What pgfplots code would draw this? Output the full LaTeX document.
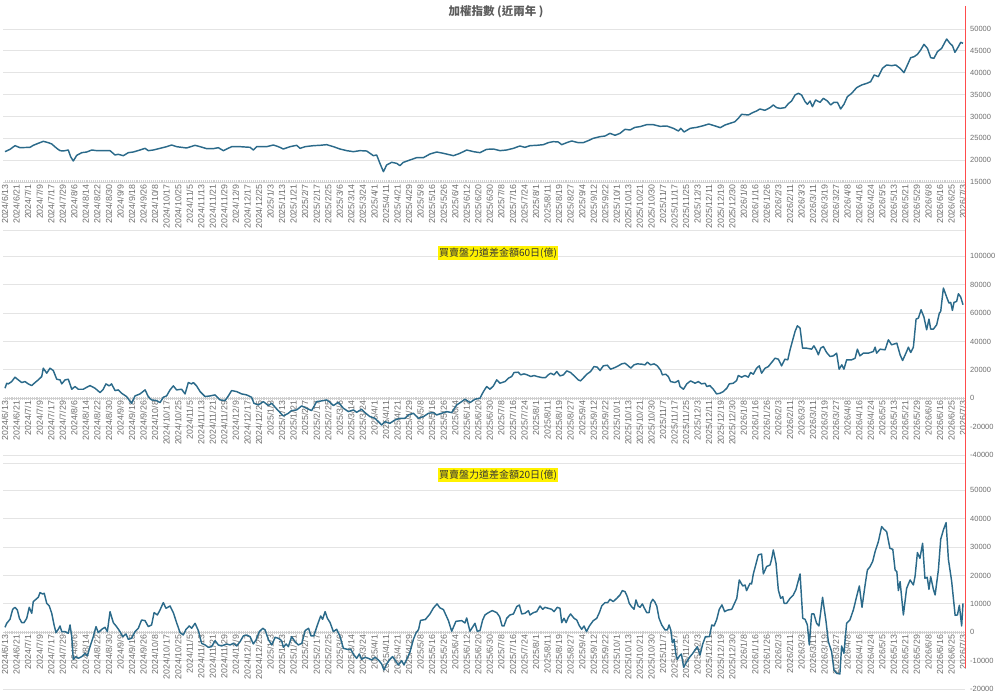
\documentclass[border=0pt]{standalone}
\usepackage{fontspec}
\setmainfont{Liberation Sans}
\newfontfamily\cjk{Noto Sans CJK TC}
\usepackage{pgfplots}
\pgfplotsset{compat=1.18}
\definecolor{linec}{HTML}{2B6A8A}
\definecolor{gridc}{HTML}{E4E4E4}
\definecolor{combc}{HTML}{CFCFCF}
\definecolor{tickc}{HTML}{6E6E6E}
\definecolor{titlec}{HTML}{5C5C5C}
\pgfplotsset{
  datelabels/.style={xticklabels={2024/6/13,2024/6/21,2024/7/1,2024/7/9,2024/7/17,2024/7/29,2024/8/6,2024/8/14,2024/8/22,2024/8/30,2024/9/9,2024/9/18,2024/9/26,2024/10/8,2024/10/17,2024/10/25,2024/11/5,2024/11/13,2024/11/21,2024/11/29,2024/12/9,2024/12/17,2024/12/25,2025/1/3,2025/1/13,2025/1/21,2025/2/7,2025/2/17,2025/2/25,2025/3/6,2025/3/14,2025/3/24,2025/4/1,2025/4/11,2025/4/21,2025/4/29,2025/5/8,2025/5/16,2025/5/26,2025/6/4,2025/6/12,2025/6/20,2025/6/30,2025/7/8,2025/7/16,2025/7/24,2025/8/1,2025/8/11,2025/8/19,2025/8/27,2025/9/4,2025/9/12,2025/9/22,2025/10/1,2025/10/13,2025/10/21,2025/10/30,2025/11/7,2025/11/17,2025/11/25,2025/12/3,2025/12/11,2025/12/19,2025/12/30,2026/1/8,2026/1/16,2026/1/26,2026/2/3,2026/2/11,2026/3/3,2026/3/11,2026/3/19,2026/3/27,2026/4/8,2026/4/16,2026/4/24,2026/5/5,2026/5/13,2026/5/21,2026/5/29,2026/6/8,2026/6/16,2026/6/25,2026/7/3}},
  common/.style={
    scale only axis, width=962pt,
    xmin=-1.04, xmax=499.04,
    axis y line*=right,
    y axis line style={draw=none},
    hide obscured x ticks=false, hide obscured y ticks=false,
    scaled y ticks=false, scaled x ticks=false,
    xtick={0,6,...,498}, datelabels,
    minor x tick num=5,
    xtick align=center,
    major tick length=3pt, minor tick length=3pt,
    xtick style={draw=combc, line width=0.5pt},
    minor tick style={draw=combc, line width=0.5pt},
    ytick style={draw=none},
    xticklabel style={rotate=90, anchor=east, font=\fontsize{8.8}{9}\selectfont, text=tickc, inner sep=1pt},
    yticklabel style={anchor=west, font=\fontsize{7.5}{8}\selectfont, text=tickc, inner sep=0pt, xshift=5pt},
    ymajorgrids, grid style={draw=gridc, line width=0.8pt},
  },
  ser/.style={draw=linec, no markers, line width=1.45pt, line join=round},
}
\begin{document}
\begin{tikzpicture}
\useasboundingbox (0,0) rectangle (1000pt,698pt);
% ---------- Panel 1 ----------
\begin{axis}[common, at={(3pt,516pt)}, anchor=south west, height=153pt,
  axis x line=bottom, x axis line style={-, draw=combc, line width=0.6pt},
  ymin=15000, ymax=50000,
  ytick={15000,20000,25000,30000,35000,40000,45000,50000},
  yticklabels={15000,20000,25000,30000,35000,40000,45000,50000}]
\addplot[ser] table {
0 21940
2.6 22470
5.2 23310
7.8 22850
13 22930
14.7 23390
17.3 23850
19.9 24300
22.5 24000
24.3 23690
26.9 22700
28.6 22170
30.3 22090
32.9 22320
34.1 20800
35.5 19800
37.3 21100
39.9 21710
42.5 21860
45.1 22320
47.7 22170
51.1 22170
54.6 22170
57.2 21180
58.9 21330
61.5 21020
64.1 21710
66.7 21860
70.2 22320
72.8 22700
74.5 22170
77.1 22320
80.6 22700
84 23080
86.6 23460
89.2 23080
94.4 22780
98.8 23390
101.4 23080
104.8 22630
108.3 22630
110.9 22850
113.5 22170
117.8 23080
122.2 23080
127.4 22930
129.1 22320
130.8 23080
136 23080
139.5 23460
142.1 23080
144.7 22550
148.2 23080
151.6 23390
153.4 22700
156 23080
160.3 23310
163.7 23390
167.2 23540
170.7 23080
174.1 22550
177.6 22170
181.1 21940
184.5 22170
188 22090
191.5 21020
193.2 21180
194.9 19270
196.7 17360
198.4 18890
201 19500
203.6 19270
205.3 18740
207.1 19500
210.5 20030
214 20570
217.5 20570
220.9 21400
224.4 21860
227.9 21560
233.1 21020
236.5 21560
240 22320
243.5 21940
246.9 21710
250.4 22470
253.9 22550
257.3 22170
260.8 22320
264.3 22700
267.6 23235
270.3 22930
272.9 23310
276.4 23390
279.9 23540
282.4 24000
285 24230
287.6 24150
289.4 23540
292 24000
294.6 24380
298 24000
300.6 24000
303.2 24460
305.8 24990
309.3 25370
311.9 25520
314.5 26130
317.1 25680
319.7 26130
322.3 27050
324.9 26900
327.5 27500
330.1 27660
333.6 28120
337 28120
340.5 27730
344 27810
347.4 27280
350.1 26670
351.3 27280
353 26440
356.2 27280
359.6 27500
363.1 27890
365.8 28270
369.2 27810
371.8 27430
374.3 28040
376.9 28420
379.5 28800
381.2 29560
382.9 30480
386.4 30330
389 30940
390.7 31240
392.4 31700
395 31400
397.7 32010
399.4 32620
401.1 32010
402.9 31850
405.5 32010
407.2 32920
408.9 33530
410.7 34900
412.4 35280
414.1 34900
415.9 33380
417.1 32770
418.5 33530
419.7 32230
421.4 33760
423.7 33230
425.4 34140
427.5 33530
429.2 32620
430.9 33230
432.7 33230
434.4 31700
436.1 32770
437.9 34520
440.1 35280
442.7 36580
445.3 37190
448 37570
450 37950
451.8 39480
454 39100
456.1 41000
458.3 41770
460.9 41610
463 41770
465.3 41000
467.3 40010
469.1 41770
470.8 43440
472.6 43670
474.3 44200
476 45200
477.7 46490
479.5 45580
481.2 43440
482.9 43290
484.7 44820
486.9 45580
489.5 47710
491.2 46720
492.5 46190
493.8 44660
495.6 45960
496.8 46950
498 46720
};
\end{axis}
% ---------- Panel 2 ----------
\begin{axis}[common, at={(3pt,243pt)}, anchor=south west, height=198.7pt,
  axis x line=middle, x axis line style={-, draw=combc, line width=0.6pt},
  ymin=-40000, ymax=100000,
  ytick={-40000,-20000,0,20000,40000,60000,80000,100000},
  yticklabels={-40000,-20000,0,20000,40000,60000,80000,100000}]
\addplot[ser] table {
0 7040
0.9 10570
1.7 10100
3.5 11750
5.2 14810
6.9 12920
8.7 11040
10.4 11750
12.1 10100
13.9 8920
15.6 11040
17.3 12920
19.1 15280
19.9 21160
21.7 17630
23.4 21160
25.1 19510
26.9 13400
28.6 12920
29.5 10100
31.2 12920
32.9 13400
34.7 6340
36.4 8220
38.1 6340
40.7 6340
42.5 7750
44.2 8920
46.8 7040
49.4 4000
51.1 6340
52.5 10100
54.2 8690
55.4 10100
57.2 5390
58.9 5870
60.6 3510
63.2 1160
65.8 -3550
67.6 1630
70.2 3040
72.8 5870
74.5 1160
76.2 -1190
78.8 -1660
80.6 -3080
82.3 690
84 1630
85.8 5870
87.5 8690
89.2 5870
91.8 6340
93.6 3040
95.3 11040
97 10100
97.9 11040
99.6 8690
101.4 4690
104 1160
106.6 1630
109.2 2350
111.8 -1190
114.4 -1660
116.1 1630
117.8 5390
120.4 4690
123 3040
125.6 2350
128.2 690
129.4 -3550
131.7 -4720
134.3 -2370
136.9 -5190
138.6 -3550
140.9 -7080
143 -10130
144.7 -12490
147.3 -10610
149 -8730
151.6 -8250
154.2 -5430
156.8 -7080
159.4 -8730
162 -2370
164.6 -1900
167.2 -1190
168.9 -2840
170.7 -5190
173.3 -2840
175.9 -7080
178.5 -9430
181.1 -8250
182.8 -9900
185.4 -7780
187.1 -10130
189.7 -12960
192.3 -14140
194.1 -16490
195.8 -18840
197.5 -16490
200.1 -17670
202.7 -15310
205.3 -14140
207.9 -14140
209.7 -11780
212.3 -10610
214.9 -14140
217.5 -12960
220.1 -10610
222.7 -10130
224.4 -11780
227 -10610
229.6 -9430
232.2 -10130
234.8 -4720
237.4 -2370
239.1 -710
241.7 -3080
244.3 -710
246.9 0
248.7 4690
250.4 8220
252.1 6340
253.9 8690
255.6 12920
257.3 10570
259.9 11750
261.7 14100
263.4 15280
264.6 18100
266.8 18340
268.1 16460
269.8 17160
271.5 16460
273.3 15280
275 15990
276.7 15280
279 14580
281 14580
282.4 16460
283.7 17630
285.4 16460
286.8 18810
288.5 15750
290.3 16460
292 19280
294 18100
296.3 15280
298 12920
299.2 12220
301 14810
302.7 17160
304.4 18810
306.2 22340
307.9 21870
309.3 19510
311 22810
313.1 23280
314.8 20460
317.1 21630
318.8 22810
320.6 24220
322.3 24690
324 22810
325.3 21160
327 23510
328.7 24220
331 23980
332.7 23510
333.9 25400
335.6 23510
337.4 24220
339.1 22810
340.9 19510
341.7 16460
343.5 16930
344.8 15280
346 11750
348.3 11040
350.1 12450
350.9 8220
352.7 6340
354.4 10100
356.4 12220
358.7 10570
360.4 11750
362.1 10100
363.9 10570
364.8 8220
366.4 8920
368.2 6340
369.9 3040
371.7 3500
373.4 4680
375.2 7040
376.5 10100
378.6 10570
380.3 12450
381.2 15980
382.9 14800
384.7 15980
386.4 14800
387.6 18100
389 16920
390.7 21160
392.1 22800
393.3 17630
395.1 21160
396.8 22330
398.5 25150
400.3 28210
402 27500
403.7 22800
405.4 27500
406.9 27040
408.1 34100
409.5 41150
410.7 47040
411.9 51040
413.3 49390
414.6 35270
416.7 35270
419.3 34570
420.5 36920
421.9 33620
422.8 30570
424 35270
425.4 36450
427.1 32210
428.9 29390
430.6 29860
432.3 31740
433.6 20450
435 23510
436.1 20450
437.5 27040
440.1 27040
441.9 28210
443.1 34570
444.4 29860
446.2 31740
448.8 31740
451.4 32920
452.3 35980
453.1 31740
454.9 34570
457.5 34090
459.2 41150
460.9 37630
463.6 38800
465.3 30570
466.6 26570
468.7 32920
469.6 35980
470.8 32210
472.2 35980
473.6 55740
474.8 56450
476.2 62330
477.7 57150
479.1 48210
480.3 55740
481.2 48680
482.6 48680
484.3 51740
485.7 59980
486.4 61150
487.8 77620
489.5 71270
490.7 67040
491.6 67510
492.5 61860
493.3 67510
494.7 68210
495.6 73630
496.8 71270
498 65860
};
\end{axis}
% ---------- Panel 3 ----------
\begin{axis}[common, at={(3pt,8.9pt)}, anchor=south west, height=198.8pt,
  axis x line=middle, x axis line style={-, draw=combc, line width=0.6pt},
  ymin=-20000, ymax=50000,
  ytick={-20000,-10000,0,10000,20000,30000,40000,50000},
  yticklabels={-20000,-10000,0,10000,20000,30000,40000,50000}]
\addplot[ser] table {
0 1760
0.9 3170
2.6 4580
4 8100
5.2 8800
6.4 7870
7.5 4930
8.7 3400
9.9 3400
11.3 4930
12.6 8800
13.9 6690
14.7 10800
16.1 11620
17.3 12330
18.2 13970
19.6 13500
20.4 13740
21.7 10210
23 9270
24.3 6690
25.5 2580
26.5 -120
27.7 1060
28.6 2230
29.5 230
31.2 230
32.9 -350
33.8 2580
34.7 -1530
35.5 -9510
36.9 -8570
38.1 -9160
39.9 -8570
41.6 -7400
42.8 -8340
44.2 -5050
45.9 -1530
47.3 2000
48.5 -120
50.3 1060
52 1760
53.2 230
54.6 7280
56.3 3400
58 2000
59.8 230
61.2 -1530
62.9 -590
64.1 -2470
65.8 -2110
67.6 230
69.3 1410
71 4340
72.8 4110
74.5 2000
76.2 2580
77.5 6930
79.2 6100
80.6 7870
82.3 10450
83.7 8450
85.8 9270
87.5 6930
89.2 3400
91 -120
92.7 -940
94.1 1060
95.8 2230
97 1410
98.8 3170
100.5 590
102.2 -3870
104 -4460
105.7 -5280
107.4 -5050
109.2 -2940
110.9 -4460
112.6 -4810
115.2 -4110
117 -4460
118.7 -3870
120.4 -4810
122.2 -3290
123.9 -1290
125.6 -940
127.4 -1530
129.1 -4110
130.5 -2700
132.2 230
134 1410
135.2 820
137 -2700
138.7 -4460
140.4 -1760
142.1 -2110
143.8 -2940
144.7 -5280
146.1 -4110
147.3 -5050
149 -1530
150.8 -3290
152.5 -4460
154.3 -3870
156 590
157.8 1410
159.1 -1290
160.5 -1290
162.4 2580
164.1 5750
165.1 4580
166.4 7280
167.6 4930
169 3400
170.7 230
172.4 1060
174.2 -1530
175.9 -5640
178 -5990
179.7 -5990
181.4 -7980
182.8 -9160
184.2 -7630
185.4 -9510
187.1 -8800
188.9 -9160
190.6 -9740
192.3 -8800
194.1 -9740
195.8 -11150
197 -13270
198.4 -11150
200.1 -9510
201.5 -8570
203.3 -10330
204.5 -11500
206.2 -9980
207.4 -11500
208.8 -9510
210.5 -7000
212.3 -2500
213.6 -300
215 1000
216 4200
218.5 4500
220.9 6460
222.7 8570
224.6 10000
226.1 8600
227.9 8000
230.5 4110
232.2 350
234.4 3870
237.4 4110
239.1 3290
240 5050
241.7 350
244.3 3170
245.5 350
246.9 590
248.3 4340
249.5 6100
251.3 6930
253.3 7630
255.6 6930
257.1 5520
258.4 2230
259.4 2230
260.8 4930
262.5 6100
264.3 6460
266 9040
267.4 9630
268.6 6460
270.3 6690
272.1 7630
272.9 6100
274.7 6930
276.4 7280
278.1 9270
279.5 8100
280.7 8800
282.4 8450
284.2 8100
285.4 7280
287.1 8800
288.5 8450
289.4 3400
290.6 4930
291.7 3400
292.8 5280
294 6460
295.8 4930
297.2 4340
298.6 2230
299.8 1060
301 2230
302.3 230
303.8 2230
305.8 4110
307.6 4930
309 7000
310.2 9270
311.9 10450
313.3 10450
314.5 11620
316.2 10800
318 11970
319.7 13150
320.9 14680
322.3 14320
323.5 12560
324.5 10210
325.7 9040
327 8100
328 11390
329.1 9270
330.1 8800
331.3 9980
332.4 8450
333.6 6930
334.8 6930
335.6 10210
336.7 11620
337.7 10800
338.8 9270
340 4930
341.4 2580
343.1 820
344.3 820
345.2 2580
346.1 820
346.9 -3640
347.8 -2470
348.7 -7630
349.5 -9510
350.6 -8340
351.6 -7630
352.8 -12330
354.4 -10330
356.1 -8570
357.3 -7630
358.7 -6220
359.9 -5050
361.3 -7980
362.7 -4110
364.1 -1530
366.2 -1530
367.4 2580
368.6 2230
370 4580
371.3 8100
372.7 9630
374.1 7280
375.5 7800
377.8 8100
380.4 11970
381.7 18430
383.5 16320
384.7 16670
385.5 14680
387.3 17260
388.1 17020
389 20550
390.7 24890
391.6 27240
393.3 27590
394.2 20550
395.9 23130
397.7 23710
398.5 25710
399.4 29000
400.8 24300
402 14910
403.2 11970
404.3 12560
405 10210
406.3 10210
408.1 11970
409.8 13150
411.2 15140
412.4 18200
413.3 20550
414.7 4930
415.9 4580
417.1 2580
418.1 -4460
419.3 6460
420.5 6460
421.9 3170
423.1 2230
425 12330
426.8 3760
428 -3290
429.7 -6810
430.9 -13270
432.3 -14440
434 -14680
434.9 -4810
436.1 -7400
437.5 3170
439.2 4340
441 7870
442.7 12560
444.1 16320
445.5 8800
447.1 16670
448.3 21950
449.7 23130
451 24890
452.3 28410
454 31930
455.7 37220
456.9 36280
458.3 35450
460 29580
461.5 29230
462.7 21950
463.6 21370
464.4 14680
465.3 17840
467 6100
468.7 15500
470.5 18430
472.2 16670
473.1 19840
474.3 28060
475.6 26060
477 31350
478.2 19020
479.4 19370
480.3 15140
481.2 19610
482.6 15140
483.5 13150
485.2 21950
486.4 32750
487.8 36040
489.2 38620
490.4 25710
492.1 17960
493.9 5990
495.1 6100
496.1 9510
497.3 2230
498 10210
};
\end{axis}
% ---------- titles, separators, cursor ----------
\node[font=\cjk\bfseries\fontsize{11.5}{13}\selectfont, text=titlec] at (496pt,686pt) {加權指數 (近兩年 )};
\node[fill=yellow, inner sep=1.5pt, font=\cjk\fontsize{10}{11}\selectfont, text=black!80] at (498pt,445pt) {買賣盤力道差金額60日(億)};
\node[fill=yellow, inner sep=1.5pt, font=\cjk\fontsize{10}{11}\selectfont, text=black!80] at (498pt,223pt) {買賣盤力道差金額20日(億)};
\draw[gridc, line width=0.8pt] (3pt,468pt) -- (965pt,468pt);
\draw[gridc, line width=0.8pt] (3pt,235pt) -- (965pt,235pt);
\draw[red!70!white, line width=0.8pt] (965pt,692pt) -- (965pt,30pt);
\end{tikzpicture}
\end{document}
